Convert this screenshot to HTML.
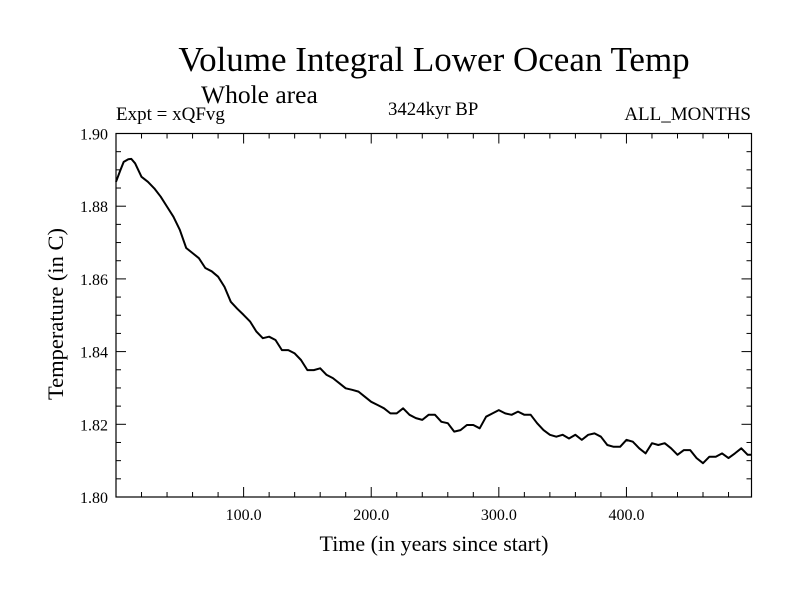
<!DOCTYPE html>
<html><head><meta charset="utf-8"><style>
body{margin:0;background:#fff}
svg text{font-family:"Liberation Serif",serif;fill:#000}
</style></head><body>
<svg id="chart" width="800" height="600" viewBox="0 0 800 600" xmlns="http://www.w3.org/2000/svg">
<rect width="800" height="600" fill="#fff"/>
<text x="434" y="71" font-size="35" text-anchor="middle">Volume Integral Lower Ocean Temp</text>
<text x="201" y="103" font-size="25.5">Whole area</text>
<text x="116" y="120" font-size="19">Expt = xQFvg</text>
<text x="388" y="115" font-size="18.8">3424kyr BP</text>
<text x="751" y="120" font-size="19" text-anchor="end">ALL_MONTHS</text>
<text transform="translate(63,314) rotate(-90)" font-size="22.5" text-anchor="middle">Temperature (in C)</text>
<text x="434" y="551" font-size="22" text-anchor="middle">Time (in years since start)</text>
<g id="axes"></g>
<path id="series" fill="none" stroke="#000" stroke-width="2" stroke-linejoin="round"/>
<rect x="116" y="133.5" width="635.5" height="363.5" fill="none" stroke="#000" stroke-width="1.2"/>
</svg>
<script>
const years = [0,3.5,6,9.6,12,15,20,25,30,35,40,45,50,55,60,65,70,75,80,85,90,95,100,105,110,115,120,125,130,135,140,145,150,155,160,165,170,175,180,185,190,195,200,205,210,215,220,225,230,235,240,245,250,255,260,265,270,275,280,285,290,295,300,305,310,315,320,325,330,335,340,345,350,355,360,365,370,375,380,385,390,395,400,405,410,415,420,425,430,435,440,445,450,455,460,465,470,475,480,485,490,495,498];
const temps = [1.8867,1.8900,1.8922,1.8929,1.8930,1.8918,1.8881,1.8867,1.8849,1.8826,1.8799,1.8771,1.8735,1.8685,1.8671,1.8657,1.8630,1.8621,1.8606,1.8578,1.8537,1.8518,1.8501,1.8483,1.8455,1.8437,1.8441,1.8432,1.8404,1.8404,1.8395,1.8377,1.8349,1.8349,1.8354,1.8336,1.8327,1.8313,1.8299,1.8295,1.8290,1.8276,1.8262,1.8253,1.8244,1.8230,1.8230,1.8244,1.8226,1.8217,1.8212,1.8226,1.8226,1.8207,1.8203,1.8180,1.8184,1.8198,1.8198,1.8189,1.8221,1.8230,1.8239,1.8230,1.8226,1.8235,1.8226,1.8226,1.8203,1.8184,1.8171,1.8166,1.8171,1.8161,1.8171,1.8157,1.8171,1.8175,1.8166,1.8143,1.8138,1.8138,1.8157,1.8152,1.8134,1.8120,1.8148,1.8143,1.8148,1.8134,1.8116,1.8129,1.8129,1.8107,1.8093,1.8111,1.8111,1.8120,1.8107,1.8120,1.8134,1.8116,1.8116];
const xTicks = [100,200,300,400];
const xTickLabels = ["100.0","200.0","300.0","400.0"];
const yTicks = [1.80,1.82,1.84,1.86,1.88,1.90];
const yTickLabels = ["1.80","1.82","1.84","1.86","1.88","1.90"];
const X0=116,X1=751.5,Y0=133.5,Y1=497,XMIN=0,XMAX=498,YMIN=1.80,YMAX=1.90;
function sx(v){return X0+(v-XMIN)/(XMAX-XMIN)*(X1-X0);}
function sy(v){return Y1-(v-YMIN)/(YMAX-YMIN)*(Y1-Y0);}
const NS="http://www.w3.org/2000/svg";
const g=document.getElementById('axes');
function line(x1,y1,x2,y2){const l=document.createElementNS(NS,'line');l.setAttribute('x1',x1);l.setAttribute('y1',y1);l.setAttribute('x2',x2);l.setAttribute('y2',y2);l.setAttribute('stroke','#000');l.setAttribute('stroke-width','1');


g.appendChild(l);}
function text(x,y,s,anchor){const t=document.createElementNS(NS,'text');t.setAttribute('x',x);t.setAttribute('y',y);t.setAttribute('font-size','16');t.setAttribute('text-anchor',anchor);t.textContent=s;


g.appendChild(t);}
for(let v=20;v<XMAX;v+=20){const x=sx(v);const major=v%100===0;const len=major?10:5;line(x,Y1,x,Y1-len);line(x,Y0,x,Y0+len);}
for(let k=1;k<20;k++){const v=YMIN+k*0.005;const y=sy(v);const major=k%4===0;const len=major?10:5;line(X0,y,X0+len,y);line(X1,y,X1-len,y);}
xTicks.forEach((v,i)=>text(sx(v),520,xTickLabels[i],'middle'));
yTicks.forEach((v,i)=>text(108,sy(v)+6,yTickLabels[i],'end'));
let d='';years.forEach((v,i)=>{d+=(i?'L':'M')+sx(v).toFixed(1)+','+sy(temps[i]).toFixed(1);});
document.getElementById('series').setAttribute('d',d);
</script>
</body></html>
